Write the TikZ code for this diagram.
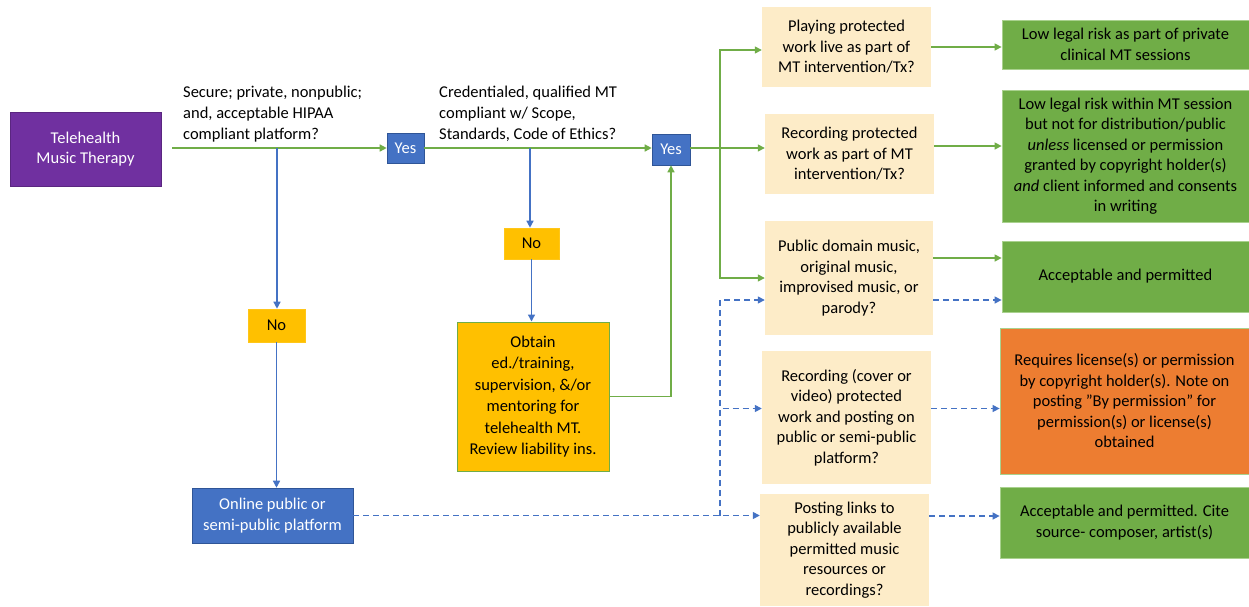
\documentclass[tikz,border=0pt]{standalone}
\usepackage{fontspec}
\setmainfont{Carlito}
\usetikzlibrary{arrows.meta,calc}
\definecolor{cpurple}{RGB}{112,48,160}
\definecolor{cblue}{RGB}{68,114,196}
\definecolor{cblueb}{RGB}{47,85,151}
\definecolor{cgold}{RGB}{255,192,0}
\definecolor{cgreen}{RGB}{112,173,71}
\definecolor{cgreenl}{RGB}{169,209,142}
\definecolor{cline}{RGB}{112,173,71}
\definecolor{corange}{RGB}{237,125,49}
\definecolor{ccream}{RGB}{253,236,200}
\begin{document}
\begin{tikzpicture}[x=1pt,y=-1pt,
  every node/.style={font=\fontsize{16.5}{20.5}\selectfont, align=center, inner sep=0pt},
  startbox/.style={fill=cpurple, draw=cpurple!80!black, text=white, line width=0.6pt},
  yesbox/.style={fill=cblue, draw=cblueb, text=white, line width=0.6pt},
  nobox/.style={fill=cgold, draw=cgold!90!white, line width=0.6pt},
  actbox/.style={fill=cgold, draw=cgreen, line width=1pt},
  qbox/.style={fill=ccream},
  okbox/.style={fill=cgreen, draw=cgreenl, line width=0.8pt},
  warnbox/.style={fill=corange, draw=cgreenl, line width=0.8pt},
  gline/.style={draw=cline, line width=1.4pt},
  bline/.style={draw=cblue, line width=1.4pt},
  dline/.style={draw=cblue, line width=1.4pt, dash pattern=on 6pt off 4pt},
  tip/.style={-{Triangle[length=7pt,width=7pt]}},
]
\useasboundingbox (0,0) rectangle (1249,606);

% main nodes
\node[startbox, minimum width=151pt, minimum height=74pt] (tele) at (85.5,149) {Telehealth\\Music Therapy};
\node[yesbox, minimum width=37pt, minimum height=30pt] (yes1) at (405.5,148) {Yes};
\node[yesbox, minimum width=38pt, minimum height=31pt] (yes2) at (671,149.5) {Yes};
\node[nobox, minimum width=57pt, minimum height=33pt] (no1) at (276.5,325.5) {No};
\node[nobox, minimum width=55pt, minimum height=31pt] (no2) at (531.5,243.5) {No};
\node[yesbox, minimum width=161pt, minimum height=55pt] (online) at (272.5,515.5) {Online public or\\semi-public platform};
\node[actbox, minimum width=152pt, minimum height=149pt, font=\fontsize{16.5}{21.5}\selectfont] (obtain) at (533,396.5) {Obtain\\ed./training,\\supervision, \&/or\\mentoring for\\telehealth MT.\\Review liability ins.};

% labels
\node[anchor=north west, align=left, font=\fontsize{16.5}{21}\selectfont] (lab1) at (183,86) {Secure; private, nonpublic;\\and, acceptable HIPAA\\compliant platform?};
\node[anchor=north west, align=left, font=\fontsize{16.5}{21}\selectfont] (lab2) at (439,86) {Credentialed, qualified MT\\compliant w/ Scope,\\Standards, Code of Ethics?};

% question boxes
\node[qbox, minimum width=169pt, minimum height=80pt] (q1) at (846.5,47) {Playing protected\\work live as part of\\MT intervention/Tx?};
\node[qbox, minimum width=169pt, minimum height=80pt] (q2) at (849.5,154) {Recording protected\\work as part of MT\\intervention/Tx?};
\node[qbox, minimum width=168pt, minimum height=114pt] (q3) at (849,278) {Public domain music,\\original music,\\improvised music, or\\parody?};
\node[qbox, minimum width=169pt, minimum height=133pt] (q4) at (846.5,417.5) {Recording (cover or\\video) protected\\work and posting on\\public or semi-public\\platform?};
\node[qbox, minimum width=169pt, minimum height=112pt] (q5) at (844.5,550) {Posting links to\\publicly available\\permitted music\\resources or\\recordings?};

% outcome boxes
\node[okbox, minimum width=247pt, minimum height=49pt] (o1) at (1125.5,44.5) {Low legal risk as part of private\\clinical MT sessions};
\node[okbox, minimum width=247pt, minimum height=132pt] (o2) at (1125.5,156) {Low legal risk within MT session\\but not for distribution/public\\\textit{unless} licensed or permission\\granted by copyright holder(s)\\\textit{and} client informed and consents\\in writing};
\node[okbox, minimum width=247pt, minimum height=71pt] (o3) at (1125.5,276.5) {Acceptable and permitted};
\node[warnbox, minimum width=249pt, minimum height=146pt] (o4) at (1124.5,401) {Requires license(s) or permission\\by copyright holder(s). Note on\\posting ”By permission” for\\permission(s) or license(s)\\obtained};
\node[okbox, minimum width=249pt, minimum height=71pt] (o5) at (1124.5,522.5) {Acceptable and permitted. Cite\\source- composer, artist(s)};

% junction coordinates
\coordinate (j1) at (277,148);
\coordinate (j2) at (530,148);
\coordinate (jg) at (720,148);
\coordinate (jb) at (720,516);

% green flow
\draw[gline, tip, shorten <=11pt] (tele.east |- yes1.west) -- (yes1.west);
\draw[gline, tip] (yes1.east) -- (yes2.west |- yes1.east);
\draw[gline, tip] (obtain.east) -| (yes2.south);
\draw[gline, tip] (yes2.east |- jg) -- (jg) -- (jg -| q2.west);
\draw[gline, tip] (jg) |- ([yshift=-3pt]q1.west);
\draw[gline, tip] (jg) |- (q3.west);
\draw[gline, tip] (q1.east) -- (q1.east -| o1.west);
\draw[gline, tip] ([yshift=8pt]q2.east) -- ([yshift=8pt]q2.east -| o2.west);
\draw[gline, tip] ([yshift=20pt]q3.east) -- ([yshift=20pt]q3.east -| o3.west);

% blue flow
\draw[bline, tip] (j1) -- (j1 |- no1.north);
\draw[bline, tip] (no1.south) -- (no1.south |- online.north);
\draw[bline, tip] (j2) -- (j2 |- no2.north);
\draw[bline, tip] (no2.south) -- (no2.south |- obtain.north);

% dashed flow
\draw[dline, tip] (online.east) -- (online.east -| q5.west);
\draw[dline, tip] (jb) |- ([yshift=-22pt]q3.west);
\draw[dline, tip] (jb) |- ([yshift=9pt]q4.west);
\draw[dline, tip] ([yshift=-22pt]q3.east) -- ([yshift=-22pt]q3.east -| o3.west);
\draw[dline, tip] ([yshift=9pt]q4.east) -- ([yshift=9pt]q4.east -| o4.west);
\draw[dline, tip] ([yshift=34pt]q5.east) -- ([yshift=34pt]q5.east -| o5.west);
\end{tikzpicture}
\end{document}
